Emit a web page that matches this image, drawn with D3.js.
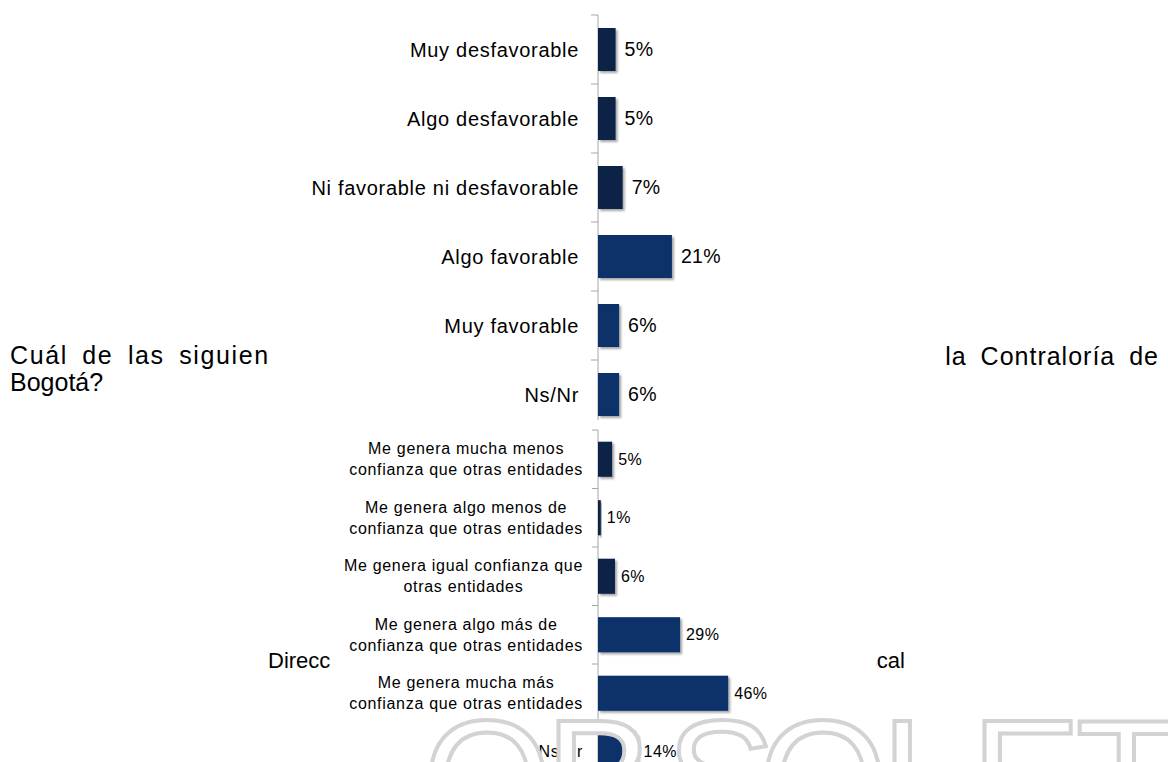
<!DOCTYPE html>
<html>
<head>
<meta charset="utf-8">
<script src="https://d3js.org/d3.v7.min.js"></script>
<style>
  html, body { margin: 0; padding: 0; background: #fff; }
  svg { display: block; font-family: Arial, "Liberation Sans", sans-serif; }
</style>
</head>
<body>
<div class="container"></div>
<script>
var w = 1168;
var h = 762;

// chart 1: opinion
var cats1 = ["Muy desfavorable", "Algo desfavorable", "Ni favorable ni desfavorable", "Algo favorable", "Muy favorable", "Ns/Nr"];
var vals1 = [5, 5, 7, 21, 6, 6];

// chart 2: trust compared to other entities
var cats2 = [
  ["Me genera mucha menos", "confianza que otras entidades"],
  ["Me genera algo menos de", "confianza que otras entidades"],
  ["Me genera igual confianza que", "otras entidades"],
  ["Me genera algo más de", "confianza que otras entidades"],
  ["Me genera mucha más", "confianza que otras entidades"],
  ["Ns/Nr"]
];
var vals2 = [5, 1, 6, 29, 46, 14];

var dark = "#0e2247";
var navy = "#08306a";
var axisColor = "#a6a6a6";

var svg = d3.select('.container')
  .append('svg')
  .attr('width', w)
  .attr('height', h);

var defs = svg.append('defs');
defs.append('filter')
  .attr('id', 'shadow')
  .attr('x', '-20%').attr('y', '-20%')
  .attr('width', '150%').attr('height', '150%')
  .append('feDropShadow')
  .attr('dx', 2).attr('dy', 2)
  .attr('stdDeviation', 1)
  .attr('flood-color', '#000')
  .attr('flood-opacity', 0.35);

// slide text behind the charts
var slideText = svg.append('g').attr('fill', '#000');
slideText.append('text').attr('x', 10).attr('y', 364)
  .style('font-size', '25px').style('word-spacing', '6px').style('letter-spacing', '1.6px')
  .text('Cuál de las siguientes afirmaciones');
slideText.append('text').attr('x', 1159).attr('y', 365)
  .attr('text-anchor', 'end')
  .style('font-size', '25px').style('word-spacing', '6px').style('letter-spacing', '1px')
  .text('la Contraloría de');
slideText.append('text').attr('x', 10).attr('y', 391)
  .style('font-size', '25px')
  .text('Bogotá?');
slideText.append('text').attr('x', 268).attr('y', 668)
  .style('font-size', '22px')
  .text('Dirección de Control Fiscal');
slideText.append('text').attr('x', 905).attr('y', 668)
  .attr('text-anchor', 'end')
  .style('font-size', '22px')
  .text('Fiscal');

// ---------- chart 1 ----------
var g1 = svg.append('g');
g1.append('rect')
  .attr('x', 268).attr('y', 0)
  .attr('width', 676).attr('height', 420)
  .attr('fill', '#fff');

var x1 = d3.scaleLinear().domain([0, 100]).range([598, 950]);
var y1 = d3.scaleBand().domain(cats1).range([15, 429])
  .paddingInner(0.377).paddingOuter(0.1885);

g1.append('line')
  .attr('x1', x1(0)).attr('x2', x1(0))
  .attr('y1', 15).attr('y2', 429)
  .attr('stroke', axisColor);

g1.selectAll('.tick1')
  .data(d3.range(cats1.length + 1))
  .enter()
  .append('line')
  .attr('class', 'tick1')
  .attr('x1', x1(0) - 7).attr('x2', x1(0))
  .attr('y1', (d) => 15 + d * y1.step())
  .attr('y2', (d) => 15 + d * y1.step())
  .attr('stroke', axisColor);

g1.selectAll('.bar1')
  .data(vals1)
  .enter()
  .append('rect')
  .attr('class', 'bar1')
  .attr('x', x1(0))
  .attr('y', (d, i) => y1(cats1[i]))
  .attr('width', (d) => x1(d) - x1(0))
  .attr('height', y1.bandwidth())
  .attr('fill', (d, i) => i < 3 ? dark : navy)
  .attr('filter', 'url(#shadow)');

g1.selectAll('.val1')
  .data(vals1)
  .enter()
  .append('text')
  .attr('class', 'val1')
  .attr('x', (d) => x1(d) + 9)
  .attr('y', (d, i) => y1(cats1[i]) + y1.bandwidth() / 2)
  .attr('dy', '0.35em')
  .style('font-size', '19.5px')
  .style('letter-spacing', '0.3px')
  .text((d) => d + '%');

g1.selectAll('.lab1')
  .data(cats1)
  .enter()
  .append('text')
  .attr('class', 'lab1')
  .attr('x', 579)
  .attr('y', (d) => y1(d) + y1.bandwidth() / 2)
  .attr('dy', '0.35em')
  .attr('text-anchor', 'end')
  .style('font-size', '20px')
  .style('letter-spacing', '0.7px')
  .text((d) => d);

// ---------- chart 2 ----------
var g2 = svg.append('g');
g2.append('rect')
  .attr('x', 331).attr('y', 420)
  .attr('width', 545).attr('height', 342)
  .attr('fill', '#fff');

var x2 = d3.scaleLinear().domain([0, 100]).range([598, 881]);
var y2 = d3.scaleBand().domain(d3.range(cats2.length)).range([430, 781])
  .paddingInner(0.4).paddingOuter(0.2);

g2.append('line')
  .attr('x1', x2(0)).attr('x2', x2(0))
  .attr('y1', 430).attr('y2', 781)
  .attr('stroke', axisColor);

g2.selectAll('.tick2')
  .data(d3.range(cats2.length + 1))
  .enter()
  .append('line')
  .attr('class', 'tick2')
  .attr('x1', x2(0) - 6).attr('x2', x2(0))
  .attr('y1', (d) => 430 + d * y2.step())
  .attr('y2', (d) => 430 + d * y2.step())
  .attr('stroke', axisColor);

g2.selectAll('.bar2')
  .data(vals2)
  .enter()
  .append('rect')
  .attr('class', 'bar2')
  .attr('x', x2(0))
  .attr('y', (d, i) => y2(i))
  .attr('width', (d) => x2(d) - x2(0))
  .attr('height', y2.bandwidth())
  .attr('fill', (d, i) => i < 3 ? dark : navy)
  .attr('filter', 'url(#shadow)');

g2.selectAll('.val2')
  .data(vals2)
  .enter()
  .append('text')
  .attr('class', 'val2')
  .attr('x', (d) => x2(d) + 6)
  .attr('y', (d, i) => y2(i) + y2.bandwidth() / 2)
  .attr('dy', '0.35em')
  .style('font-size', '16px')
  .style('letter-spacing', '0.4px')
  .text((d) => d + '%');

// multi-line labels: block right-aligned, lines centred in the block
var labRight = 583;
var lab2 = g2.selectAll('.lab2')
  .data(cats2)
  .enter()
  .append('text')
  .attr('class', 'lab2')
  .attr('text-anchor', 'middle')
  .style('font-size', '16px')
  .style('letter-spacing', '0.7px');

lab2.selectAll('tspan')
  .data((d, i) => d.map((line, j) => ({ line: line, j: j, n: d.length, i: i })))
  .enter()
  .append('tspan')
  .attr('y', (d) => y2(d.i) + y2.bandwidth() / 2 + (d.j - (d.n - 1) / 2) * 21)
  .attr('dy', '0.35em')
  .text((d) => d.line);

lab2.each(function() {
  var spans = d3.select(this).selectAll('tspan');
  var maxW = 0;
  spans.each(function() { maxW = Math.max(maxW, this.getComputedTextLength()); });
  spans.attr('x', labRight - maxW / 2);
});

// ---------- watermark ----------
var mark = "OBSOLETE";
var markX = [423, 545, 666, 759, 881, 971, 1076, 1180];
svg.append('text')
  .attr('x', markX.join(' '))
  .attr('y', 835)
  .style('font-size', '165px')
  .attr('fill', '#fff')
  .attr('stroke', '#d3d3d3')
  .attr('stroke-width', 4)
  .text(mark);
</script>
</body>
</html>
